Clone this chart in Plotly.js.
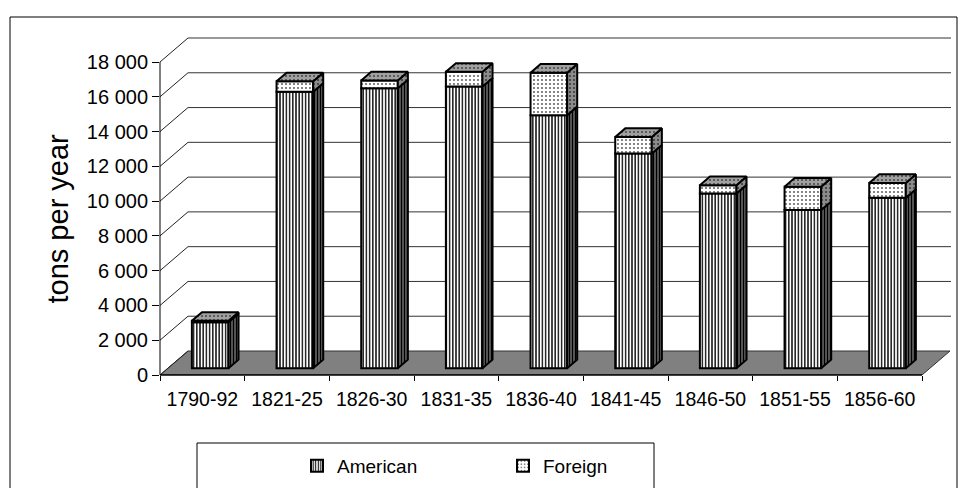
<!DOCTYPE html>
<html>
<head>
<meta charset="utf-8">
<script src="https://cdn.plot.ly/plotly-3.0.1.min.js"></script>
<style>
  html, body { margin: 0; padding: 0; background: #fff; }
  #chart { width: 959px; height: 488px; }
</style>
</head>
<body>
<div id="chart"></div>
<script>
// Shipping tonnage by period (tons per year)
const periods  = ['1790-92', '1821-25', '1826-30', '1831-35', '1836-40', '1841-45', '1846-50', '1851-55', '1856-60'];
const american = [2650, 15900, 16100, 16200, 14550, 12350, 10050, 9100, 9800];
const foreign  = [80, 600, 450, 850, 2450, 950, 480, 1340, 860];
const yTicks   = [0, 2000, 4000, 6000, 8000, 10000, 12000, 14000, 16000, 18000];

// ---- page geometry ----
const W = 959, H = 488;
const ML = 160, MR = 8, MT = 30, MB = 113;
const PW = W - ML - MR, PH = H - MT - MB;
const CAT_PX = 762 / periods.length;           // width of one category on the front edge
const X0 = -0.5, X1 = X0 + PW / CAT_PX;
const YTOP = yTicks[yTicks.length - 1];
const Y1 = YTOP * PH / 313;                      // front axis spans 313 px
// oblique projection of the floor depth (in axis units)
const DX = 28 / CAT_PX, DY = 24 / PH * Y1;
// columns sit part-way into the depth
const Z0 = 0.28, ZD = 0.36, HALF = 0.216;
const dx0 = DX * Z0, dy0 = DY * Z0, ddx = DX * ZD, ddy = DY * ZD;

const PX = px => (px - ML) / PW;
const PY = py => (H - MB - py) / PH;

const FONT = 'Arial, "Liberation Sans", sans-serif';
const idx = periods.map((_, i) => i);
const XEND = periods.length - 0.5;

// ---- columns: front faces ----
const stripes = { shape: '|', fgcolor: '#000', bgcolor: '#fff', size: 3.2, solidity: 0.42, fillmode: 'replace' };
const dots    = { shape: '.', fgcolor: '#555', bgcolor: '#fff', size: 4, solidity: 0.18, fillmode: 'replace' };

const frontAm = {
  type: 'bar', name: 'American', legend: 'legend',
  x: idx, y: american, base: american.map(() => dy0),
  offset: dx0 - HALF, width: 2 * HALF,
  marker: { color: '#fff', pattern: stripes, line: { color: '#000', width: 2 } },
  hoverinfo: 'skip'
};
const frontFo = {
  type: 'bar', name: 'Foreign', legend: 'legend2',
  x: idx, y: foreign, base: american.map(v => v + dy0),
  offset: dx0 - HALF, width: 2 * HALF,
  marker: { color: '#fff', pattern: dots, line: { color: '#000', width: 2 } },
  hoverinfo: 'skip'
};

// ---- columns: side and top faces ----
function sidePolys(lo, hi) {
  const xs = [], ys = [];
  idx.forEach(i => {
    const xr = i + dx0 + HALF;
    const b = lo[i] + dy0, t = hi[i] + dy0;
    xs.push(xr, xr, xr + ddx, xr + ddx, xr, null);
    ys.push(b, t, t + ddy, b + ddy, b, null);
  });
  return { xs, ys };
}
function topPolys(hi) {
  const xs = [], ys = [];
  idx.forEach(i => {
    const xl = i + dx0 - HALF, xr = i + dx0 + HALF;
    const t = hi[i] + dy0;
    xs.push(xl, xr, xr + ddx, xl + ddx, xl, null);
    ys.push(t, t, t + ddy, t + ddy, t, null);
  });
  return { xs, ys };
}
const totals = american.map((v, i) => v + foreign[i]);
const sAm = sidePolys(american.map(() => 0), american);
const sFo = sidePolys(american, totals);
const tp  = topPolys(totals);

const faceTrace = (p, pattern, bg) => ({
  type: 'scatter', mode: 'lines', x: p.xs, y: p.ys,
  fill: 'toself', fillcolor: bg, fillpattern: pattern,
  line: { color: '#000', width: 2 }, showlegend: false, hoverinfo: 'skip'
});
const sideAm = faceTrace(sAm, { shape: '|', fgcolor: '#000', bgcolor: '#8a8a8a', size: 3, solidity: 0.6, fillmode: 'replace' }, '#8a8a8a');
const sideFo = faceTrace(sFo, { shape: '.', fgcolor: '#333', bgcolor: '#8c8c8c', size: 4, solidity: 0.2, fillmode: 'replace' }, '#8c8c8c');
const topFc  = faceTrace(tp,  { shape: '.', fgcolor: '#444', bgcolor: '#a0a0a0', size: 4, solidity: 0.2, fillmode: 'replace' }, '#a0a0a0');

// ---- walls, floor and axis lines ----
const shapes = [];
// floor
shapes.push({
  type: 'path', xref: 'x', yref: 'y', layer: 'below',
  path: `M${X0},0 L${XEND},0 L${XEND + DX},${DY} L${X0 + DX},${DY} Z`,
  fillcolor: '#808080', line: { color: '#333', width: 1 }
});
// side-wall diagonals and back-wall gridlines
yTicks.forEach(v => {
  shapes.push({ type: 'line', xref: 'x', yref: 'y', layer: 'below',
    x0: X0, y0: v, x1: X0 + DX, y1: v + DY, line: { color: '#222', width: 1 } });
  if (v > 0) shapes.push({ type: 'line', xref: 'x', yref: 'y', layer: 'below',
    x0: X0 + DX, y0: v + DY, x1: X1, y1: v + DY, line: { color: '#333', width: 1 } });
});
// front vertical axis line
shapes.push({ type: 'line', xref: 'paper', yref: 'y', x0: 0, x1: 0, y0: 0, y1: YTOP,
  line: { color: '#000', width: 1 } });
// front floor edge
shapes.push({ type: 'line', xref: 'x', yref: 'paper', x0: X0, x1: XEND, y0: 0, y1: 0,
  line: { color: '#000', width: 1.5 } });
// chart frame
shapes.push({ type: 'rect', xref: 'paper', yref: 'paper',
  x0: PX(10), x1: PX(957), y0: PY(17), y1: PY(500), line: { color: '#000', width: 1 }, fillcolor: 'rgba(0,0,0,0)' });
// legend frame
shapes.push({ type: 'rect', xref: 'paper', yref: 'paper',
  x0: PX(197), x1: PX(654), y0: PY(443), y1: PY(500), line: { color: '#000', width: 1 }, fillcolor: 'rgba(0,0,0,0)' });

const layout = {
  width: W, height: H,
  margin: { l: ML, r: MR, t: MT, b: MB, autoexpand: false },
  paper_bgcolor: '#fff', plot_bgcolor: 'rgba(0,0,0,0)',
  separators: '. ',
  barmode: 'overlay',
  font: { family: FONT, color: '#000', size: 19 },
  showlegend: true,
  xaxis: {
    range: [X0, X1], fixedrange: true, automargin: false,
    showgrid: false, zeroline: false, showline: false,
    tickmode: 'array', tickvals: idx, ticktext: periods, ticks: '',
    ticklabelstandoff: 10,
    tickfont: { size: 19.5, family: FONT, color: '#000' },
    minor: { tickmode: 'linear', tick0: -0.5, dtick: 1, ticks: 'outside', ticklen: 5, tickcolor: '#000', tickwidth: 1, showgrid: false }
  },
  yaxis: {
    range: [0, Y1], fixedrange: true, automargin: false,
    showgrid: false, zeroline: false, showline: false,
    tickmode: 'array', tickvals: yTicks, tickformat: ',d',
    ticks: 'outside', ticklen: 7, tickcolor: '#000', tickwidth: 1,
    tickfont: { size: 20, family: FONT, color: '#000' }
  },
  legend: {
    x: PX(297), y: PY(466), xanchor: 'left', yanchor: 'middle',
    orientation: 'h', bgcolor: 'rgba(0,0,0,0)', borderwidth: 0,
    font: { size: 19, family: FONT, color: '#000' }
  },
  legend2: {
    x: PX(503), y: PY(466), xanchor: 'left', yanchor: 'middle',
    orientation: 'h', bgcolor: 'rgba(0,0,0,0)', borderwidth: 0,
    font: { size: 19, family: FONT, color: '#000' }
  },
  annotations: [{
    xref: 'paper', yref: 'y', x: PX(57), y: (yTicks[0] + YTOP) / 2,
    text: 'tons per year', textangle: -90, showarrow: false,
    xanchor: 'center', yanchor: 'middle',
    font: { size: 29, family: FONT, color: '#000' }
  }],
  shapes: shapes
};

Plotly.newPlot('chart', [frontAm, frontFo, sideAm, sideFo, topFc], layout, { displayModeBar: false, staticPlot: true });
</script>
</body>
</html>
